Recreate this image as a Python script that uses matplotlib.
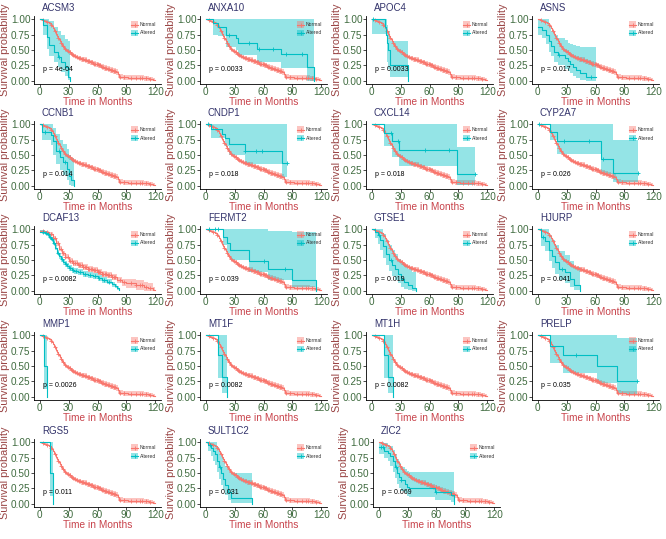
import matplotlib.pyplot as plt
import numpy as np
from matplotlib.patches import Rectangle

plt.rcParams['font.family'] = ['Liberation Sans', 'DejaVu Sans']

RED = '#F8766D'
TEAL = '#00BFC4'
NAVY = '#33336B'
BROWN = '#9A4545'
XRED = '#C8434B'
GREEN = '#3F6B3F'

# shared "Normal" curve
NORM_T = [0, 2, 4, 6, 8, 10, 11, 12, 13, 14, 15, 16, 17, 18, 19, 20, 21, 22, 23, 24, 25, 26, 27, 28,
          30, 32, 34, 36, 38, 40, 43, 46, 49, 52, 55, 58, 61, 64, 67, 70, 73, 76, 79,
          81, 82, 86, 92, 100, 108, 114, 118, 120]
NORM_S = [1.0, 0.98, 0.97, 0.96, 0.95, 0.94, 0.93, 0.91, 0.89, 0.86, 0.83, 0.80, 0.76, 0.73, 0.70, 0.67,
          0.64, 0.61, 0.58, 0.56, 0.54, 0.52, 0.50, 0.48, 0.46, 0.44, 0.42, 0.40, 0.39, 0.37,
          0.35, 0.34, 0.32, 0.30, 0.28, 0.27, 0.25, 0.23, 0.21, 0.20, 0.18, 0.16, 0.14,
          0.11, 0.07, 0.06, 0.05, 0.05, 0.04, 0.03, 0.02, 0.02]
NORM_ERR = [0.0, 0.01, 0.015, 0.02, 0.02, 0.02, 0.025, 0.025, 0.025, 0.025, 0.025, 0.025, 0.03, 0.03,
            0.03, 0.03, 0.03, 0.03, 0.03, 0.03, 0.03, 0.03, 0.03, 0.03, 0.035, 0.035, 0.035, 0.035,
            0.035, 0.035, 0.04, 0.04, 0.04, 0.04, 0.04, 0.04, 0.04, 0.04, 0.045, 0.045, 0.045, 0.045,
            0.045, 0.045, 0.04, 0.04, 0.04, 0.04, 0.04, 0.035, 0.03, 0.03]
NORM_CENS = [3, 7, 12, 16, 19, 22, 24, 26, 29, 31, 33, 35, 37, 39, 41, 42, 44, 45, 47, 48, 50, 51,
             53, 54, 56, 57, 59, 60, 62, 63, 65, 66, 68, 69, 71, 72, 74, 75, 77, 78, 83, 88, 95,
             100, 104, 106, 110, 115]

# DCAF13 normal differs (large altered group)
DCAF13_NT = [0, 5, 10, 14, 17, 20, 23, 26, 30, 35, 40, 45, 50, 55, 60, 65, 70, 75, 80, 85, 90, 100,
             108, 112, 118, 120]
DCAF13_NS = [0.97, 0.95, 0.92, 0.86, 0.77, 0.68, 0.61, 0.55, 0.49, 0.45, 0.42, 0.39, 0.36, 0.34,
             0.31, 0.28, 0.26, 0.22, 0.18, 0.14, 0.12, 0.10, 0.07, 0.05, 0.02, 0.02]
DCAF13_NERR = [0.02, 0.02, 0.03, 0.03, 0.04, 0.04, 0.04, 0.04, 0.045, 0.045, 0.045, 0.045, 0.05,
               0.05, 0.05, 0.05, 0.05, 0.05, 0.05, 0.06, 0.07, 0.08, 0.08, 0.07, 0.05, 0.05]

# Altered curves: times, survival, lower, upper, censor times
ACSM3_T = [0, 3, 7, 10, 15, 19, 22, 26, 29, 31]
ACSM3_S = [1.0, 0.9, 0.71, 0.58, 0.47, 0.39, 0.31, 0.23, 0.07, 0.0]
ACSM3_LO = [1.0, 0.75, 0.52, 0.4, 0.3, 0.22, 0.15, 0.08, 0.01, 0.0]
ACSM3_HI = [1.0, 1.0, 1.0, 0.97, 0.88, 0.8, 0.74, 0.68, 0.64, 0.64]
ACSM3_C = [20]

ANXA10_T = [0, 7, 13, 21, 31, 34, 53, 78, 105, 112]
ANXA10_S = [1.0, 0.94, 0.88, 0.75, 0.69, 0.61, 0.52, 0.44, 0.22, 0.0]
ANXA10_LO = [1.0, 0.74, 0.72, 0.55, 0.5, 0.42, 0.3, 0.21, 0.0, 0.0]
ANXA10_HI = [1.0, 1.0, 1.0, 1.0, 1.0, 1.0, 1.0, 1.0, 1.0, 1.0]
ANXA10_C = [24, 45, 55, 70, 83, 100]

APOC4_T = [0, 14, 15, 16, 17, 19, 38]
APOC4_S = [1.0, 0.88, 0.75, 0.62, 0.5, 0.25, 0.0]
APOC4_LO = [0.76, 0.76, 0.76, 0.3, 0.2, 0.06, 0.0]
APOC4_HI = [1.0, 1.0, 1.0, 0.9, 0.8, 0.65, 0.65]
APOC4_C = [1]

ASNS_T = [0, 4, 9, 12, 14, 17, 21, 28, 31, 34, 37, 40, 44, 50, 60]
ASNS_S = [0.87, 0.83, 0.75, 0.64, 0.57, 0.47, 0.42, 0.37, 0.32, 0.27, 0.22, 0.17, 0.12, 0.07, 0.07]
ASNS_LO = [0.75, 0.7, 0.6, 0.47, 0.4, 0.3, 0.25, 0.2, 0.16, 0.12, 0.08, 0.04, 0.01, 0.0, 0.0]
ASNS_HI = [1.0, 1.0, 1.0, 0.9, 0.8, 0.74, 0.7, 0.66, 0.62, 0.6, 0.58, 0.56, 0.55, 0.55, 0.55]
ASNS_C = [22, 55]

CCNB1_T = [0, 2, 12, 14, 17, 21, 24, 28, 30, 32, 36]
CCNB1_S = [1.0, 0.88, 0.82, 0.72, 0.57, 0.46, 0.38, 0.28, 0.16, 0.1, 0.0]
CCNB1_LO = [1.0, 0.75, 0.66, 0.5, 0.36, 0.25, 0.18, 0.1, 0.02, 0.0, 0.0]
CCNB1_HI = [1.0, 1.0, 1.0, 0.93, 0.84, 0.75, 0.68, 0.6, 0.5, 0.45, 0.45]
CCNB1_C = [5, 20, 26]

CNDP1_T = [0, 5, 17, 20, 24, 41, 79, 84]
CNDP1_S = [1.0, 0.92, 0.84, 0.78, 0.67, 0.56, 0.37, 0.37]
CNDP1_LO = [1.0, 0.78, 0.78, 0.65, 0.5, 0.35, 0.14, 0.14]
CNDP1_HI = [1.0, 1.0, 1.0, 1.0, 1.0, 1.0, 1.0, 1.0]
CNDP1_C = [2, 41, 52, 58, 84]

CXCL14_T = [0, 13, 21, 28, 89, 107]
CXCL14_S = [1.0, 0.86, 0.72, 0.58, 0.2, 0.2]
CXCL14_LO = [1.0, 0.64, 0.46, 0.33, 0.02, 0.02]
CXCL14_HI = [1.0, 1.0, 1.0, 1.0, 0.63, 0.63]
CXCL14_C = [20, 27, 55, 80, 107]

CYP2A7_T = [0, 13, 20, 66, 78, 104]
CYP2A7_S = [1.0, 0.88, 0.73, 0.44, 0.21, 0.21]
CYP2A7_LO = [1.0, 0.75, 0.52, 0.19, 0.07, 0.07]
CYP2A7_HI = [1.0, 1.0, 1.0, 1.0, 0.75, 0.75]
CYP2A7_C = [1, 27, 53, 68, 104]

DCAF13_T = [0, 2, 5, 8, 10, 12, 14, 16, 18, 20, 22, 24, 26, 28, 30, 33, 36, 40, 45, 50, 55, 60,
            65, 70, 75, 78, 80, 82]
DCAF13_S = [0.96, 0.95, 0.94, 0.92, 0.88, 0.84, 0.78, 0.7, 0.62, 0.56, 0.52, 0.47, 0.43, 0.4, 0.37,
            0.34, 0.32, 0.3, 0.28, 0.26, 0.24, 0.21, 0.18, 0.15, 0.11, 0.08, 0.05, 0.02]
DCAF13_ERR = [0.03, 0.03, 0.03, 0.03, 0.035, 0.04, 0.04, 0.045, 0.045, 0.05, 0.05, 0.05, 0.05, 0.05,
              0.05, 0.05, 0.05, 0.05, 0.05, 0.05, 0.05, 0.05, 0.045, 0.045, 0.04, 0.035, 0.03, 0.02]
DCAF13_C = [3, 6, 9, 11, 13, 15, 19, 23, 27, 31, 35, 38, 42, 47, 52, 57, 62, 67, 72]

FERMT2_T = [0, 18, 22, 25, 45, 65, 90, 115]
FERMT2_S = [1.0, 0.88, 0.77, 0.66, 0.48, 0.35, 0.18, 0.0]
FERMT2_LO = [1.0, 0.75, 0.62, 0.5, 0.3, 0.18, 0.06, 0.0]
FERMT2_HI = [1.0, 1.0, 1.0, 1.0, 1.0, 0.97, 0.95, 0.95]
FERMT2_C = [3, 10, 13, 60, 82]

GTSE1_T = [0, 3, 6, 9, 12, 15, 18, 21, 24, 27, 30, 34, 38, 42, 46]
GTSE1_S = [1.0, 0.95, 0.9, 0.82, 0.72, 0.6, 0.5, 0.42, 0.35, 0.28, 0.2, 0.15, 0.1, 0.05, 0.0]
GTSE1_LO = [1.0, 0.85, 0.76, 0.66, 0.54, 0.42, 0.32, 0.24, 0.18, 0.12, 0.07, 0.03, 0.01, 0.0, 0.0]
GTSE1_HI = [1.0, 1.0, 1.0, 1.0, 0.92, 0.82, 0.74, 0.66, 0.6, 0.52, 0.45, 0.4, 0.35, 0.3, 0.3]
GTSE1_C = [8, 20]

HJURP_T = [0, 3, 8, 12, 15, 18, 22, 28, 33, 38, 44]
HJURP_S = [1.0, 0.87, 0.8, 0.66, 0.56, 0.46, 0.36, 0.3, 0.2, 0.1, 0.0]
HJURP_LO = [1.0, 0.73, 0.64, 0.48, 0.37, 0.27, 0.18, 0.13, 0.06, 0.01, 0.0]
HJURP_HI = [1.0, 1.0, 1.0, 0.9, 0.82, 0.74, 0.64, 0.58, 0.48, 0.38, 0.38]
HJURP_C = [5, 25]

MMP1_T = [0, 4, 8]
MMP1_S = [1.0, 0.5, 0.0]
MMP1_LO = [1.0, 0.12, 0.0]
MMP1_HI = [1.0, 1.0, 1.0]
MMP1_C = []

MT1F_T = [0, 13, 17, 22]
MT1F_S = [1.0, 0.67, 0.33, 0.0]
MT1F_LO = [1.0, 0.3, 0.07, 0.0]
MT1F_HI = [1.0, 1.0, 1.0, 1.0]
MT1F_C = []

MT1H_T = [0, 13, 17, 22]
MT1H_S = [1.0, 0.67, 0.33, 0.0]
MT1H_LO = [1.0, 0.3, 0.07, 0.0]
MT1H_HI = [1.0, 1.0, 1.0, 1.0]
MT1H_C = []

PRELP_T = [0, 13, 26, 62, 82, 103]
PRELP_S = [1.0, 0.83, 0.67, 0.5, 0.25, 0.25]
PRELP_LO = [1.0, 0.55, 0.38, 0.22, 0.05, 0.05]
PRELP_HI = [1.0, 1.0, 1.0, 1.0, 0.95, 0.95]
PRELP_C = [40, 103]

RGS5_T = [0, 10.5, 13.8]
RGS5_S = [1.0, 0.5, 0.0]
RGS5_LO = [1.0, 0.12, 0.0]
RGS5_HI = [1.0, 1.0, 1.0]
RGS5_C = []

SULT1C2_T = [0, 2, 5, 8, 10, 12, 14, 16, 18, 20, 23, 26, 48]
SULT1C2_S = [1.0, 0.95, 0.9, 0.85, 0.8, 0.7, 0.6, 0.5, 0.4, 0.3, 0.2, 0.1, 0.0]
SULT1C2_LO = [1.0, 0.85, 0.77, 0.7, 0.63, 0.52, 0.41, 0.31, 0.22, 0.14, 0.07, 0.01, 0.0]
SULT1C2_HI = [1.0, 1.0, 1.0, 1.0, 1.0, 0.92, 0.85, 0.78, 0.7, 0.62, 0.55, 0.5, 0.5]
SULT1C2_C = [4, 15]

ZIC2_T = [0, 5, 10, 12, 15, 17, 19, 21, 23, 27, 29, 31, 58, 75, 78]
ZIC2_S = [0.92, 0.86, 0.83, 0.78, 0.7, 0.6, 0.5, 0.44, 0.38, 0.33, 0.28, 0.25, 0.2, 0.15, 0.0]
ZIC2_LO = [0.8, 0.74, 0.7, 0.62, 0.52, 0.42, 0.32, 0.26, 0.21, 0.17, 0.13, 0.11, 0.07, 0.03, 0.0]
ZIC2_HI = [1.0, 0.98, 0.96, 0.93, 0.88, 0.8, 0.72, 0.66, 0.6, 0.56, 0.54, 0.52, 0.52, 0.52, 0.52]
ZIC2_C = [2, 4, 18, 23, 60]

GENES = ['ACSM3', 'ANXA10', 'APOC4', 'ASNS', 'CCNB1', 'CNDP1', 'CXCL14', 'CYP2A7', 'DCAF13',
         'FERMT2', 'GTSE1', 'HJURP', 'MMP1', 'MT1F', 'MT1H', 'PRELP', 'RGS5', 'SULT1C2', 'ZIC2']
PVALS = ['4e-04', '0.0033', '0.0033', '0.017', '0.014', '0.018', '0.018', '0.026', '0.0082',
         '0.039', '0.019', '0.041', '0.0026', '0.0082', '0.0082', '0.035', '0.011', '0.031', '0.069']

W, H = 666, 539
fig = plt.figure(figsize=(W / 100, H / 100), dpi=100)

COL_LEFT = [34, 200, 366, 532]
ROW_TOP = [16, 121, 226, 332, 439]
AW, AH = 127, 68


def band_from_err(s, err):
    s = np.asarray(s)
    err = np.asarray(err)
    return np.clip(s - err, 0, 1), np.clip(s + err, 0, 1)


def draw_curve(ax, t, s, lo, hi, cens, color):
    ax.fill_between(t, lo, hi, step='post', color=color, alpha=0.42, lw=0)
    ax.step(t, s, where='post', color=color, lw=0.8)
    if len(cens):
        idx = np.searchsorted(t, cens, side='right') - 1
        ax.plot(cens, np.asarray(s)[idx], '+', color=color, ms=3, mew=0.6)


def draw_legend(ax):
    for i, (lab, col) in enumerate([('Normal', RED), ('Altered', TEAL)]):
        y = 0.87 - i * 0.12
        ax.add_patch(Rectangle((0.765, y - 0.05), 0.055, 0.1, transform=ax.transAxes,
                               color=col, alpha=0.42, lw=0))
        ax.plot([0.765, 0.82], [y, y], color=col, lw=0.8, transform=ax.transAxes)
        ax.plot([0.7925], [y], '+', color=col, ms=3, mew=0.6, transform=ax.transAxes)
        ax.text(0.835, y, lab, transform=ax.transAxes, fontsize=3.6, color='#333333',
                va='center', ha='left')


for k, gene in enumerate(GENES):
    r, c = divmod(k, 4)
    left = COL_LEFT[c]
    if r == 4 and c == 2:
        left = 373
    top = ROW_TOP[r]
    ax = fig.add_axes([left / W, 1 - (top + AH) / H, AW / W, AH / H])

    if gene == 'DCAF13':
        nlo, nhi = band_from_err(DCAF13_NS, DCAF13_NERR)
        draw_curve(ax, DCAF13_NT, DCAF13_NS, nlo, nhi, NORM_CENS, RED)
        alo, ahi = band_from_err(DCAF13_S, DCAF13_ERR)
        draw_curve(ax, DCAF13_T, DCAF13_S, alo, ahi, DCAF13_C, TEAL)
    else:
        nlo, nhi = band_from_err(NORM_S, NORM_ERR)
        draw_curve(ax, NORM_T, NORM_S, nlo, nhi, NORM_CENS, RED)
        g = globals()
        draw_curve(ax, g[gene + '_T'], g[gene + '_S'], g[gene + '_LO'], g[gene + '_HI'],
                   g[gene + '_C'], TEAL)

    ax.set_xlim(-6, 126)
    ax.set_ylim(-0.05, 1.05)
    ax.set_xticks([0, 30, 60, 90, 120])
    ax.set_yticks([0, 0.25, 0.5, 0.75, 1.0])
    ax.set_yticklabels(['0.00', '0.25', '0.50', '0.75', '1.00'])
    for sp in ['top', 'right']:
        ax.spines[sp].set_visible(False)
    for sp in ['left', 'bottom']:
        ax.spines[sp].set_linewidth(0.6)
    ax.tick_params(labelsize=7.2, labelcolor=GREEN, length=2, width=0.5, pad=0.5)

    ax.text(3, 0.18, 'p = ' + PVALS[k], fontsize=5, color='black', va='center', ha='left')
    draw_legend(ax)

    fig.text((left + 8) / W, 1 - (top - 8) / H, gene, fontsize=7, color=NAVY,
             ha='left', va='center')
    fig.text((left - 29) / W, 1 - (top + AH / 2) / H, 'Survival probability', rotation=90,
             fontsize=7.8, color=BROWN, ha='center', va='center')
    fig.text((left + AW / 2) / W, 1 - (top + AH + 18) / H, 'Time in Months', fontsize=7.3,
             color=XRED, ha='center', va='center')

fig.savefig('out.png', dpi=100)
